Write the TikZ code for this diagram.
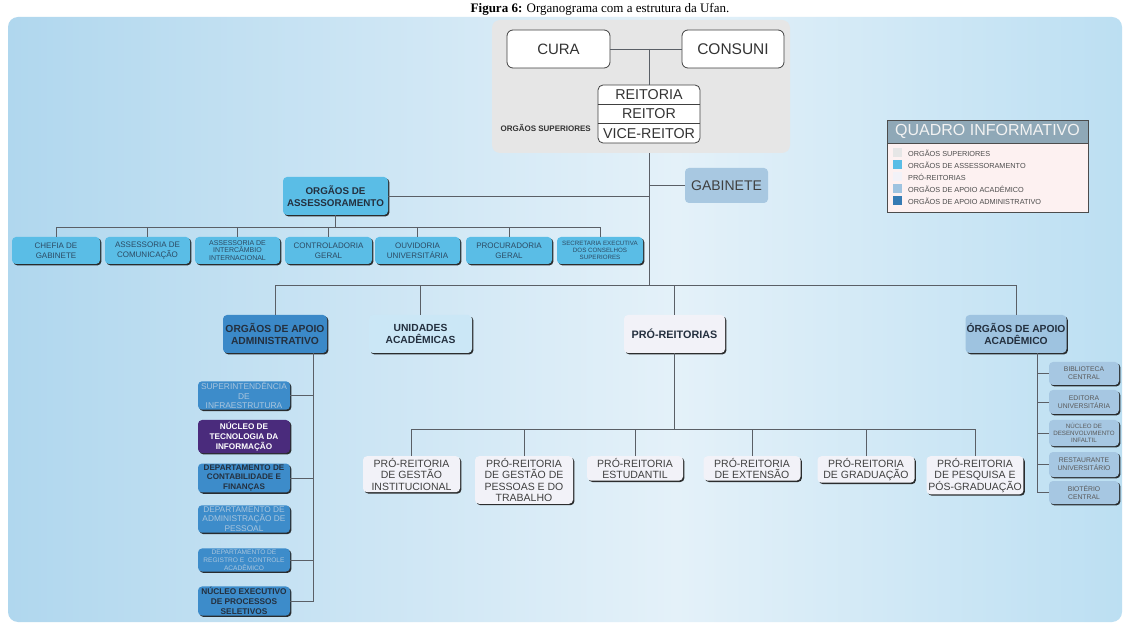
\documentclass[tikz,border=0pt]{standalone}
\usepackage{fontspec}
\setmainfont{Liberation Sans}
\newfontfamily\capfont{Liberation Serif}
\usetikzlibrary{shadows}

\definecolor{bgL}{HTML}{B0D7EE}
\definecolor{bgM}{HTML}{E4F1F9}
\definecolor{bgR}{HTML}{BCDFF2}
\definecolor{supgrey}{HTML}{E6E6E6}
\definecolor{linegrey}{HTML}{5A5F66}
\definecolor{assblue}{HTML}{5ABDE6}
\definecolor{admblue}{HTML}{3B89C8}
\definecolor{admchild}{HTML}{3D8CCA}
\definecolor{unidblue}{HTML}{CBE7F6}
\definecolor{problue}{HTML}{F2F2F8}
\definecolor{acablue}{HTML}{9EC3E0}
\definecolor{acachild}{HTML}{A6C7E2}
\definecolor{gabblue}{HTML}{A8C8E1}
\definecolor{ntipurple}{HTML}{4A2B7C}
\definecolor{darktext}{HTML}{24303F}
\definecolor{asstext}{HTML}{2C4A63}
\definecolor{paletext}{HTML}{A9C5DD}
\definecolor{legbody}{HTML}{FDF1F1}
\definecolor{leghead}{HTML}{8FA8B7}

% left-to-right panel gradient
\pgfdeclarehorizontalshading{panelshade}{100bp}{color(0bp)=(bgL); color(25bp)=(bgL);
  color(55bp)=(bgM); color(75bp)=(bgR); color(100bp)=(bgR)}

\newcommand\fs[2]{\fontsize{#1}{#2}\selectfont}

\begin{document}
\begin{tikzpicture}[x=1pt,y=-1pt,
  conn/.style={draw=linegrey,line width=0.9pt},
  shd/.style={drop shadow={shadow xshift=1.4pt,shadow yshift=-1.4pt,fill=black!90,opacity=0.9}},
  orgbox/.style={rounded corners=4pt,align=center,inner sep=1pt},
  topbox/.style={orgbox,rounded corners=6pt,fill=white,draw=black!75,line width=0.8pt,text=black!80},
  assbox/.style={orgbox,shd,fill=assblue,text=asstext,minimum height=27},
  admbox/.style={orgbox,shd,fill=admchild,minimum width=92},
  probox/.style={orgbox,shd,fill=problue,text=black!75,font=\fs{10.5}{11.6},anchor=north,inner sep=1.8pt},
  acabox/.style={orgbox,shd,fill=acachild,text=black!65,minimum width=70,font=\fs{6.8}{7.8}},
  mainbox/.style={orgbox,shd,minimum height=38,font=\bfseries\fs{10.3}{12.3},text=darktext},
  legsq/.style={minimum size=9,inner sep=0pt},
  legtxt/.style={anchor=west,font=\fs{7.3}{8},text=black!70,inner sep=0pt}]

\useasboundingbox (0,0) rectangle (1128,628);
\fill[white] (0,0) rectangle (1128,628);

% caption line
\node[anchor=base,font=\capfont\fs{13}{15},inner sep=0pt] (caption) at (600,12.5)
  {\textbf{Figura 6:} Organograma com a estrutura da Ufan.};

% panel
\shade[rounded corners=10pt,shading=panelshade] (8,17) rectangle (1122,622);

% ---------- governing bodies ----------
\node[fill=supgrey,rounded corners=8pt,minimum width=298,minimum height=133,inner sep=0pt]
  (sup) at (641,86.5) {};
\node[topbox,minimum width=103,minimum height=38,font=\fs{15}{17}] (cura) at (558.5,49) {CURA};
\node[topbox,minimum width=102,minimum height=38,font=\fs{15.5}{17}] (consuni) at (733,49) {CONSUNI};
\node[fill=white,draw=black!75,line width=0.8pt,rounded corners=5pt,minimum width=102,
  minimum height=58,inner sep=0pt] (reit) at (649,114) {};
\draw[black!75,line width=0.8pt] (reit.west |- 0,104) -- (reit.east |- 0,104);
\draw[black!75,line width=0.8pt] (reit.west |- 0,123.5) -- (reit.east |- 0,123.5);
\node[font=\fs{14.3}{16},text=black!80,inner sep=0pt] (reitoria) at (649,94.5) {REITORIA};
\node[font=\fs{14.3}{16},text=black!80,inner sep=0pt] (reitor) at (649,114) {REITOR};
\node[font=\fs{14.3}{16},text=black!80,inner sep=0pt] (vice) at (649,133.5) {VICE-REITOR};
\node[font=\bfseries\fs{8}{9},text=black!80,anchor=east,inner sep=0pt] (suplabel) at (591,128)
  {ORGÃOS SUPERIORES};

\coordinate (topj) at (649,49);
\draw[conn] (cura.east) -- (consuni.west);
\draw[conn] (topj) -- (reit.north);

% ---------- second level ----------
\node[orgbox,fill=gabblue,minimum width=83,minimum height=35,font=\fs{14}{16},text=black!75]
  (gab) at (726.5,185.5) {GABINETE};
\node[mainbox,fill=assblue,minimum width=105,font=\bfseries\fs{9.8}{12.5}] (ass) at (335.5,196)
  {ORGÃOS DE\\ASSESSORAMENTO};

\coordinate (bar) at (649,285);
\draw[conn] (reit.south |- sup.south) -- (bar);
\draw[conn] (gab.west) -- (gab.west -| bar);
\draw[conn] (ass.east) -- (ass.east -| bar);

% advisory bodies
\coordinate (abar) at (0,227);
\node[assbox,minimum width=88,font=\fs{8}{9.5}] (chefia) at (56,250.5) {CHEFIA DE\\GABINETE};
\node[assbox,minimum width=85,font=\fs{8}{9.5}] (acom) at (147.5,250.5) {ASSESSORIA DE\\COMUNICAÇÃO};
\node[assbox,minimum width=85,font=\fs{7}{7.6}] (aint) at (237.5,250.5) {ASSESSORIA DE\\INTERCÂMBIO\\INTERNACIONAL};
\node[assbox,minimum width=87,font=\fs{8}{9.5}] (cont) at (328.5,250.5) {CONTROLADORIA\\GERAL};
\node[assbox,minimum width=85,font=\fs{8}{9.5}] (ouv) at (417.5,250.5) {OUVIDORIA\\UNIVERSITÁRIA};
\node[assbox,minimum width=86,font=\fs{8}{9.5}] (proc) at (509,250.5) {PROCURADORIA\\GERAL};
\node[assbox,minimum width=86,font=\fs{6.2}{7}] (secr) at (600,250.5) {SECRETARIA EXECUTIVA\\DOS CONSELHOS\\SUPERIORES};

\draw[conn] (ass.south) -- (ass.south |- abar);
\draw[conn] (chefia.north |- abar) -- (secr.north |- abar);
\foreach \n in {chefia,acom,aint,cont,ouv,proc,secr}
  \draw[conn] (\n.north) -- (\n.north |- abar);

% ---------- third level ----------
\node[mainbox,fill=admblue,minimum width=104] (adm) at (275,334) {ORGÃOS DE APOIO\\ADMINISTRATIVO};
\node[mainbox,fill=unidblue,minimum width=103] (unid) at (420.5,334) {UNIDADES\\ACADÊMICAS};
\node[mainbox,fill=problue,minimum width=101,font=\bfseries\fs{10.8}{12.3}] (pro) at (674.5,334) {PRÓ-REITORIAS};
\node[mainbox,fill=acablue,minimum width=98] (aca) at (1016,334) {ÓRGÃOS DE APOIO\\ACADÊMICO};

\draw[conn] (adm.north |- bar) -- (aca.north |- bar);
\foreach \n in {adm,unid,pro,aca}
  \draw[conn] (\n.north) -- (\n.north |- bar);

% administrative support
\node[admbox,font=\fs{8.4}{9.5},text=paletext] (supinf) at (244,395.5)
  {SUPERINTENDÊNCIA\\DE\\INFRAESTRUTURA};
\node[admbox,fill=ntipurple,font=\bfseries\fs{8.2}{9.8},text=white,minimum height=33] (nti) at (244,436.5)
  {NÚCLEO DE\\TECNOLOGIA DA\\INFORMAÇÃO};
\node[admbox,font=\bfseries\fs{8.1}{9.8},text=darktext] (dcf) at (244,478)
  {DEPARTAMENTO DE\\CONTABILIDADE E\\FINANÇAS};
\node[admbox,font=\fs{8.3}{9.8},text=paletext] (dap) at (244,519)
  {DEPARTAMENTO DE\\ADMINISTRAÇÃO DE\\PESSOAL};
\node[admbox,font=\fs{6.6}{8.2},text=paletext] (drca) at (244,560)
  {DEPARTAMENTO DE\\REGISTRO E\ \ CONTROLE\\ACADÊMICO};
\node[admbox,font=\bfseries\fs{8.3}{9.8},text=darktext] (neps) at (244,601)
  {NÚCLEO EXECUTIVO\\DE PROCESSOS\\SELETIVOS};

\coordinate (adv) at (313,0);
\draw[conn] (adm.south -| adv) |- (neps.east);
\foreach \n in {supinf,dcf,drca}
  \draw[conn] (\n.east) -- (\n.east -| adv);

% pro-rectorates
\coordinate (pbar) at (0,429);
\node[probox,minimum width=97] (pgi) at (411.5,456) {PRÓ-REITORIA\\DE GESTÃO\\INSTITUCIONAL};
\node[probox,minimum width=98] (pgp) at (524,456) {PRÓ-REITORIA\\DE GESTÃO DE\\PESSOAS E DO\\TRABALHO};
\node[probox,minimum width=96] (pes) at (635,456) {PRÓ-REITORIA\\ESTUDANTIL};
\node[probox,minimum width=97] (pex) at (752,456) {PRÓ-REITORIA\\DE EXTENSÃO};
\node[probox,minimum width=97] (pgr) at (866,456) {PRÓ-REITORIA\\DE GRADUAÇÃO};
\node[probox,minimum width=96] (ppg) at (975,456) {PRÓ-REITORIA\\DE PESQUISA E\\PÓS-GRADUAÇÃO};

\draw[conn] (pro.south) -- (pro.south |- pbar);
\draw[conn] (pgi.north |- pbar) -- (ppg.north |- pbar);
\foreach \n in {pgi,pgp,pes,pex,pgr,ppg}
  \draw[conn] (\n.north) -- (\n.north |- pbar);

% academic support
\node[acabox,minimum height=23] (bib) at (1084,373.5) {BIBLIOTECA\\CENTRAL};
\node[acabox,minimum height=24] (edi) at (1084,402) {EDITORA\\UNIVERSITÁRIA};
\node[acabox,minimum height=26,font=\fs{6.2}{7}] (ndi) at (1084,433) {NÚCLEO DE\\DESENVOLVIMENTO\\INFALTIL};
\node[acabox,minimum height=25] (rest) at (1084,464.5) {RESTAURANTE\\UNIVERSITÁRIO};
\node[acabox,minimum height=23] (bio) at (1084,492.5) {BIOTÉRIO\\CENTRAL};

\coordinate (acv) at (1037,0);
\draw[conn] (aca.south -| acv) |- (bio.west);
\foreach \n in {bib,edi,ndi,rest}
  \draw[conn] (\n.west) -- (\n.west -| acv);

% ---------- legend ----------
\node[fill=legbody,draw=black!70,line width=0.8pt,minimum width=201,minimum height=92,inner sep=0pt]
  (quadro) at (987.5,166) {};
\node[fill=leghead,draw=black!70,line width=0.8pt,minimum width=201,minimum height=23,inner sep=0pt,
  font=\fs{16}{18},text=white!95!black] (qhead) at (987.5,131.5) {QUADRO INFORMATIVO};
\node[legsq,fill=supgrey] (l1) at (897.5,153) {};
\node[legsq,fill=assblue] (l2) at (897.5,165) {};
\node[legsq,fill=problue] (l3) at (897.5,177) {};
\node[legsq,fill=acablue] (l4) at (897.5,189) {};
\node[legsq,fill=admblue!90!black] (l5) at (897.5,201) {};
\node[legtxt] (t1) at (908,153) {ORGÃOS SUPERIORES};
\node[legtxt] (t2) at (908,165) {ORGÃOS DE ASSESSORAMENTO};
\node[legtxt] (t3) at (908,177) {PRÓ-REITORIAS};
\node[legtxt] (t4) at (908,189) {ORGÃOS DE APOIO ACADÊMICO};
\node[legtxt] (t5) at (908,201) {ORGÃOS DE APOIO ADMINISTRATIVO};
\end{tikzpicture}
\end{document}
